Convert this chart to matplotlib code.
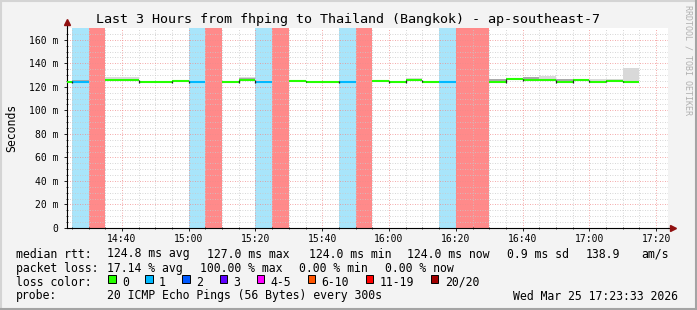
import numpy as np
import matplotlib
matplotlib.use("Agg")
import matplotlib.pyplot as plt
from matplotlib.patches import Rectangle
from matplotlib.lines import Line2D

plt.rcParams['font.family'] = ['DejaVu Sans Mono']

# 5 minute steps (start of each step)
times = ["14:20", "14:25", "14:30", "14:35", "14:40", "14:45", "14:50", "14:55",
         "15:00", "15:05", "15:10", "15:15", "15:20", "15:25", "15:30", "15:35",
         "15:40", "15:45", "15:50", "15:55", "16:00", "16:05", "16:10", "16:15",
         "16:20", "16:25", "16:30", "16:35", "16:40", "16:45", "16:50", "16:55",
         "17:00", "17:05", "17:10"]
nan = np.nan
median = [124.3, 124.0, nan, 125.5, 125.5, 124.0, 124.0, 124.9,
          124.0, nan, 124.0, 125.5, 124.0, nan, 124.6, 124.3,
          124.3, 124.0, nan, 124.6, 124.0, 125.5, 124.3, 124.3,
          nan, nan, 124.0, 126.5, 125.7, 125.7, 124.0, 125.7,
          124.2, 124.7, 124.1]
loss = [0, 1, 20, 0, 0, 0, 0, 0,
        1, 20, 0, 0, 1, 20, 0, 0,
        0, 1, 20, 0, 0, 0, 0, 1,
        20, 20, 0, 0, 0, 0, 0, 0,
        0, 0, 0]
smoke_light = [nan, nan, nan, 128.0, 128.0, nan, nan, nan,
               nan, nan, nan, 128.3, 125.9, nan, 126.0, nan,
               125.3, nan, nan, nan, nan, 127.5, nan, nan,
               nan, nan, 127.0, nan, nan, 128.9, nan, 126.3,
               126.3, 126.6, 135.6]
smoke_dark = [nan, 125.6, nan, nan, nan, nan, nan, 126.0,
              nan, nan, nan, 127.8, nan, nan, nan, nan,
              nan, nan, nan, nan, nan, nan, nan, nan,
              nan, nan, 126.8, 127.4, 128.0, nan, 126.6, nan,
              nan, nan, 125.3]

loss_labels = ["0", "1", "2", "3", "4-5", "6-10", "11-19", "20/20"]
loss_colors = ["#26ff00", "#00b8ff", "#0059ff", "#5e00ff", "#ff00ff", "#ff5500", "#ff0000", "#a00000"]
line_color = {0: "#26ff00", 1: "#00b8ff", 20: "#a00000"}
bg_color = {1: "#a8e5fb", 20: "#ff8a8a"}

xtick_labels = ["14:40", "15:00", "15:20", "15:40", "16:00", "16:20", "16:40", "17:00", "17:20"]
ytick_vals = [0, 20, 40, 60, 80, 100, 120, 140, 160]

title = "Last 3 Hours from fhping to Thailand (Bangkok) - ap-southeast-7"
rtt_stats = ["124.8 ms avg", "127.0 ms max", "124.0 ms min", "124.0 ms now", "0.9 ms sd", "138.9", "am/s"]
loss_stats = ["17.14 % avg", "100.00 % max", "0.00 % min", "0.00 % now"]
probe_text = "20 ICMP Echo Pings (56 Bytes) every 300s"
stamp = "Wed Mar 25 17:23:33 2026"


def to_min(s):
    h, m = s.split(":")
    return (int(h) - 14) * 60 + int(m)


W, H = 697, 310
fig = plt.figure(figsize=(W / 100, H / 100), dpi=100, facecolor="#f3f3f3")
ax = fig.add_axes([67 / W, 1 - 228 / H, 601 / W, 200 / H])
ax.set_facecolor("white")

t0 = np.array([to_min(t) for t in times], dtype=float)
step = 5.0
med = np.array(median, dtype=float)

# loss background
for t, l in zip(t0, loss):
    if l in bg_color:
        ax.axvspan(t, t + step, color=bg_color[l], lw=0, zorder=0.2)

# smoke
sl = np.array(smoke_light)
sd = np.array(smoke_dark)
m = ~np.isnan(sl)
ax.bar(t0[m], sl[m] - med[m] + 0.4, bottom=med[m] - 0.4, width=step, align="edge",
       color="#d9d9d9", lw=0, zorder=1.8)
m = ~np.isnan(sd)
ax.bar(t0[m], sd[m] - med[m] + 0.4, bottom=med[m] - 0.4, width=step, align="edge",
       color="#a9a9a9", lw=0, zorder=1.9)

# median line, coloured by loss
for k in range(len(t0)):
    if np.isnan(med[k]):
        continue
    ax.hlines(med[k], t0[k], t0[k] + step, color=line_color[loss[k]], lw=1.5, zorder=3)
    if k > 0 and not np.isnan(med[k - 1]) and med[k - 1] != med[k]:
        ax.vlines(t0[k], min(med[k - 1], med[k]) - 0.4, max(med[k - 1], med[k]) + 0.4,
                  color="#222222", lw=0.9, zorder=3.1)

xmin = to_min("14:23") + 33 / 60
xmax = xmin + 180
ax.set_xlim(xmin, xmax)
ax.set_ylim(0, 170)

ax.set_xticks([to_min(s) for s in xtick_labels])
ax.set_xticklabels(xtick_labels)
ax.set_xticks(np.arange(25, 205, 5), minor=True)
ax.set_yticks(ytick_vals)
ax.set_yticklabels(["0" if v == 0 else "%d m" % v for v in ytick_vals])
ax.set_yticks(np.arange(5, 170, 5), minor=True)

ax.set_axisbelow("line")
ax.grid(which="minor", color="#c8c8c8", ls=(0, (1, 2)), lw=0.6)
ax.grid(which="major", color="#f08a8a", ls=(0, (1, 2)), lw=0.6)
ax.tick_params(which="major", direction="out", length=2.5, width=0.6, labelsize=7, pad=1.5)
ax.tick_params(which="minor", direction="inout", length=2, width=0.5)
ax.tick_params(axis="y", pad=3.5)

for s in ["top", "right"]:
    ax.spines[s].set_visible(False)
for s in ["left", "bottom"]:
    ax.spines[s].set_color("black")
    ax.spines[s].set_linewidth(0.8)

# axis arrows
ax.plot([xmin, xmin], [170, 175], color="black", lw=0.8, clip_on=False)
ax.plot([xmin], [175.5], marker="^", ms=4, color="#901010", clip_on=False)
ax.plot([xmax, xmax + 1.2], [0, 0], color="black", lw=0.8, clip_on=False)
ax.plot([xmax + 1.5], [0], marker=">", ms=4, color="#901010", clip_on=False)

ax.set_ylabel("Seconds", fontsize=8.3, labelpad=8)


def ftext(x, y, s, **kw):
    fig.text(x / W, 1 - y / H, s, va="center", **kw)


ftext(347.5, 19, title, ha="center", fontsize=9.6)
ftext(688, 60, "RRDTOOL / TOBI OETIKER", ha="center", rotation=270, fontsize=6, color="#b0b0b0")

fs = 8.3
ftext(15.5, 254, "median rtt:", fontsize=fs)
for x, s in zip([106.6, 206.6, 309, 407, 506.6, 585.3, 641], rtt_stats):
    ftext(x, 254, s, fontsize=fs)
ftext(15.5, 268.3, "packet loss:", fontsize=fs)
for x, s in zip([106.6, 200, 299.3, 385.3], loss_stats):
    ftext(x, 268.3, s, fontsize=fs)
ftext(15.5, 282, "loss color:", fontsize=fs)
bx = 108.3
for lab, c in zip(loss_labels, loss_colors):
    fig.add_artist(Rectangle((bx / W, 1 - 282.7 / H), 7.3 / W, 7.3 / H, transform=fig.transFigure,
                             facecolor=c, edgecolor="black", lw=0.7))
    ftext(bx + 13.7, 282, lab, fontsize=fs)
    bx += 13.7 + 7.0 * len(lab) + 16.4
ftext(15.5, 296, "probe:", fontsize=fs)
ftext(106.6, 296, probe_text, fontsize=fs)
ftext(512.6, 296, stamp, fontsize=fs)

# frame
fig.add_artist(Line2D([0, 1], [1 - 1 / H, 1 - 1 / H], transform=fig.transFigure, color="#d4d4d4", lw=1.5))
fig.add_artist(Line2D([1 / W, 1 / W], [0, 1], transform=fig.transFigure, color="#d4d4d4", lw=1.5))
fig.add_artist(Line2D([0, 1], [1 / H, 1 / H], transform=fig.transFigure, color="#a4a4a4", lw=1.5))
fig.add_artist(Line2D([1 - 1 / W, 1 - 1 / W], [0, 1], transform=fig.transFigure, color="#a4a4a4", lw=1.5))

fig.savefig("out.png", dpi=100, facecolor=fig.get_facecolor())
